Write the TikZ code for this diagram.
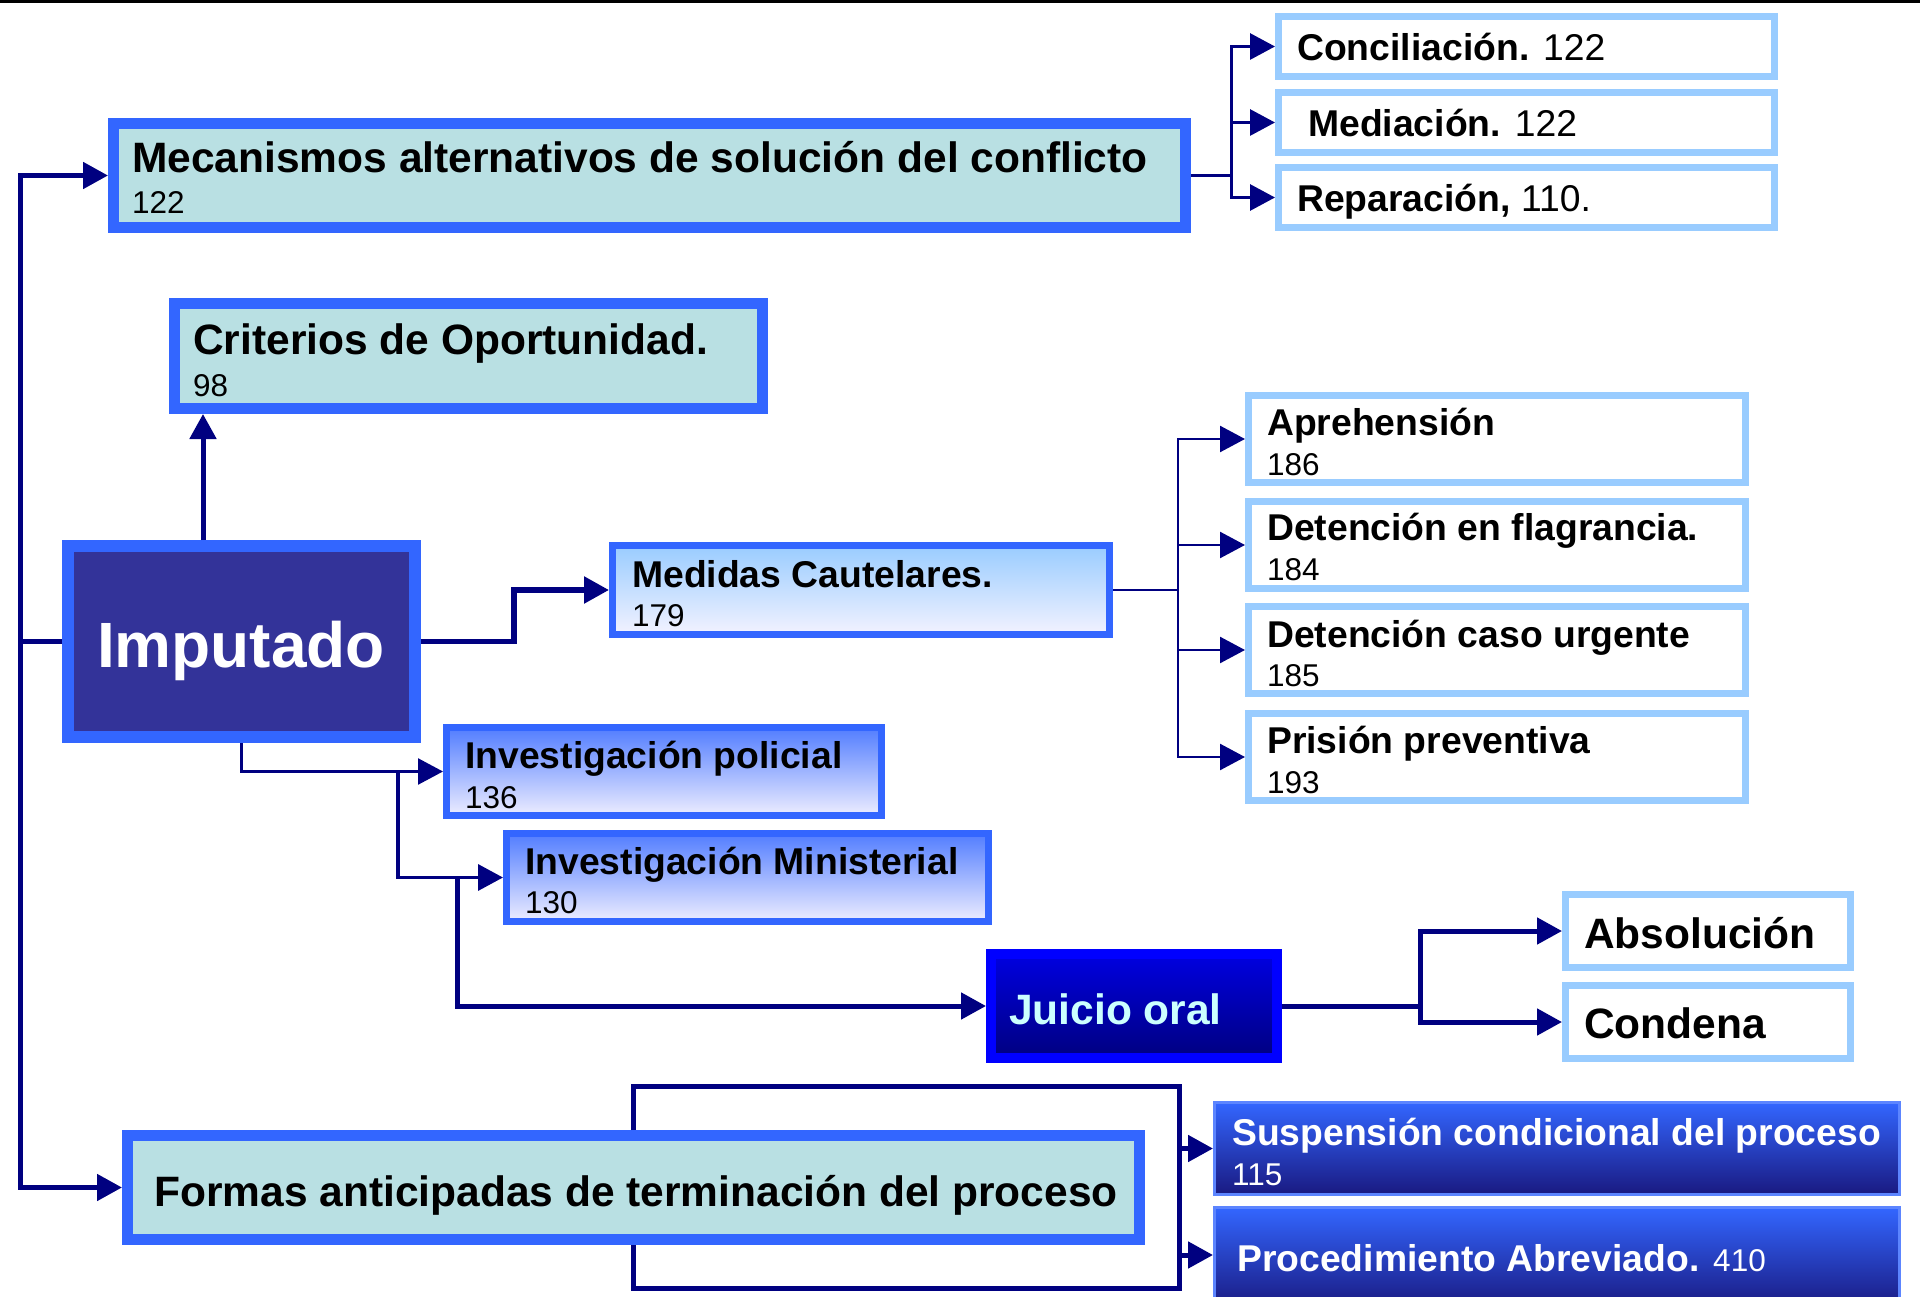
\documentclass[tikz,border=0pt]{standalone}
\usepackage{fontspec}
\setmainfont{Liberation Sans}
\usetikzlibrary{arrows.meta,calc}
\definecolor{bblue}{HTML}{3366FF}
\definecolor{lcyan}{HTML}{B9E0E3}
\definecolor{lborder}{HTML}{99CCFF}
\definecolor{navyl}{HTML}{000080}
\definecolor{impfill}{HTML}{333399}
\definecolor{jtext}{HTML}{CCFFFF}
\newcommand\fBg{\fontsize{42.5}{48}\selectfont\bfseries}
\newcommand\fMd{\fontsize{37.3}{44}\selectfont\bfseries}
\newcommand\fMr{\fontsize{37.3}{44}\selectfont\mdseries}
\newcommand\fNm{\fontsize{31.5}{36}\selectfont\mdseries}
\begin{document}
\begin{tikzpicture}[x=1pt,y=-1pt,
  mainbox/.style={rectangle,draw=bblue,line width=11pt,fill=lcyan,inner sep=0pt},
  litbox/.style={rectangle,draw=lborder,line width=7pt,fill=white,inner sep=0pt},
  gradbox/.style={rectangle,draw=bblue,line width=7pt,inner sep=0pt},
  darkbox/.style={rectangle,draw=bblue!80!white,line width=3pt,inner sep=0pt,top color=bblue,bottom color=blue!45!black!90},
  txt/.style={anchor=base west,inner sep=0pt},
  ln/.style={draw=navyl},
  arr/.style={-{Triangle[length=25pt,width=26pt]}}]
\useasboundingbox (0,0) rectangle (1920,1297);
\fill[white] (0,0) rectangle (1920,1297);
\draw[black,line width=3pt] (0,1.5) -- (1920,1.5);

% boxes
\node[mainbox,minimum width=1072pt,minimum height=104pt] (mec) at (649.5,175.5) {};
\node[litbox,minimum width=496pt,minimum height=60pt] (conc) at (1526.5,46.5) {};
\node[litbox,minimum width=496pt,minimum height=60pt] (med) at (1526.5,122.5) {};
\node[litbox,minimum width=496pt,minimum height=60pt] (rep) at (1526.5,197.5) {};
\node[mainbox,minimum width=588pt,minimum height=105pt] (crit) at (468.5,356) {};
\node[rectangle,draw=bblue,line width=12pt,fill=impfill,inner sep=0pt,minimum width=347pt,minimum height=191pt] (imp) at (241.5,641.5) {};
\node[gradbox,minimum width=497pt,minimum height=89pt,top color=lborder,bottom color=white!95!blue] (medc) at (861,590) {};
\node[litbox,minimum width=497pt,minimum height=87pt] (apr) at (1497,439) {};
\node[litbox,minimum width=497pt,minimum height=87pt] (flag) at (1497,545) {};
\node[litbox,minimum width=497pt,minimum height=87pt] (urg) at (1497,650) {};
\node[litbox,minimum width=497pt,minimum height=87pt] (pris) at (1497,757) {};
\node[gradbox,minimum width=435pt,minimum height=88pt,top color=bblue!85!white,bottom color=white!93!blue] (ipol) at (664,771.5) {};
\node[gradbox,minimum width=482pt,minimum height=88pt,top color=bblue!85!white,bottom color=white!93!blue] (imin) at (747.5,877.5) {};
\node[rectangle,draw=blue,line width=10pt,inner sep=0pt,minimum width=286pt,minimum height=104pt,top color=blue!88!black,bottom color=navyl] (juicio) at (1134,1006) {};
\node[litbox,minimum width=285pt,minimum height=73pt] (abs) at (1708,931) {};
\node[litbox,minimum width=285pt,minimum height=73pt] (cond) at (1708,1022) {};
\node[mainbox,minimum width=1012pt,minimum height=104pt] (formas) at (633.5,1187.5) {};
\node[darkbox,minimum width=685pt,minimum height=92pt] (susp) at (1557,1148.5) {};
\node[darkbox,minimum width=685pt,minimum height=101pt] (proc) at (1557,1258) {};

% texts
\node[txt] (tmec) at (132,173) {\fBg Mecanismos alternativos de solución del conflicto};
\node[txt] (nmec) at (132,214) {\fNm 122};
\node[txt] (tconc) at (1297,61) {\fMd Conciliación. \fMr 122};
\node[txt] (tmed) at (1308,137) {\fMd Mediación. \fMr 122};
\node[txt] (trep) at (1297,212) {\fMd Reparación, \fMr 110.};
\node[txt] (tcrit) at (193,355) {\fBg Criterios de Oportunidad.};
\node[txt] (ncrit) at (193,396) {\fNm 98};
\node[anchor=base,inner sep=0pt,text=white] (timp) at (241,667) {\fontsize{64}{70}\selectfont\bfseries Imputado};
\node[txt] (tmedc) at (632,587) {\fMd Medidas Cautelares.};
\node[txt] (nmedc) at (632,626) {\fNm 179};
\node[txt] (tapr) at (1267,435) {\fMd Aprehensión};
\node[txt] (napr) at (1267,475) {\fNm 186};
\node[txt] (tflag) at (1267,540) {\fMd Detención en flagrancia.};
\node[txt] (nflag) at (1267,580) {\fNm 184};
\node[txt] (turg) at (1267,647) {\fMd Detención caso urgente};
\node[txt] (nurg) at (1267,686) {\fNm 185};
\node[txt] (tpris) at (1267,753) {\fMd Prisión preventiva};
\node[txt] (npris) at (1267,793) {\fNm 193};
\node[txt] (tipol) at (465,768) {\fMd Investigación policial};
\node[txt] (nipol) at (465,808) {\fNm 136};
\node[txt] (timin) at (525,874) {\fMd Investigación Ministerial};
\node[txt] (nimin) at (525,913) {\fNm 130};
\node[txt,text=jtext] (tjuicio) at (1009,1024) {\fBg Juicio oral};
\node[txt] (tabs) at (1584,948) {\fBg Absolución};
\node[txt] (tcond) at (1584,1038) {\fBg Condena};
\node[txt] (tformas) at (154,1206) {\fBg Formas anticipadas de terminación del proceso};
\node[txt,text=white] (tsusp) at (1232,1145) {\fMd Suspensión condicional del proceso};
\node[txt,text=white] (nsusp) at (1232,1185) {\fNm 115};
\node[txt,text=white] (tproc) at (1237,1271) {\fMd Procedimiento Abreviado. \fNm 410};

% connectors
\draw[ln,line width=5pt,arr] (imp.west) -- ++(-42,0) |- (mec.west);
\draw[ln,line width=5pt,arr] (imp.west) -- ++(-42,0) |- (formas.west);
\coordinate (cu) at ([xshift=-38.5pt]imp.north);
\draw[ln,line width=5pt,arr] (cu) -- (cu |- crit.south);
\draw[ln,line width=5.5pt,arr] (imp.east) -- ++(93,0) |- (medc.west);
\draw[ln,line width=3pt,arr] (mec.east) -- ++(40,0) |- (conc.west);
\draw[ln,line width=3pt,arr] (mec.east) -- ++(40,0) |- (med.west);
\draw[ln,line width=3pt,arr] (mec.east) -- ++(40,0) |- (rep.west);
\draw[ln,line width=2.5pt,arr] (medc.east) -- ++(65,0) |- (apr.west);
\draw[ln,line width=2.5pt,arr] (medc.east) -- ++(65,0) |- (flag.west);
\draw[ln,line width=2.5pt,arr] (medc.east) -- ++(65,0) |- (urg.west);
\draw[ln,line width=2.5pt,arr] (medc.east) -- ++(65,0) |- (pris.west);
\draw[ln,line width=2.5pt,arr] (imp.south) |- (ipol.west);
\coordinate (k1) at ($(ipol.west)+(-45,0)$);
\draw[ln,line width=3.5pt,arr] (k1) |- (imin.west);
\coordinate (k2) at ($(imin.west)+(-46,0)$);
\draw[ln,line width=5pt,arr] (k2) |- (juicio.west);
\draw[ln,line width=5pt,arr] (juicio.east) -- ++(138,0) |- (abs.west);
\draw[ln,line width=5pt,arr] (juicio.east) -- ++(138,0) |- (cond.west);
\coordinate (bk) at (1179,1288);
\draw[ln,line width=5pt] (formas.north) -- ++(0,-44) -| (bk) -| (formas.south);
\coordinate (s1) at (1179,1148.5);
\coordinate (s2) at (1179,1255);
\draw[ln,line width=5pt,arr] (s1) -- (susp.west);
\draw[ln,line width=5pt,arr] (s2) -- (proc.west |- s2);
\end{tikzpicture}
\end{document}
